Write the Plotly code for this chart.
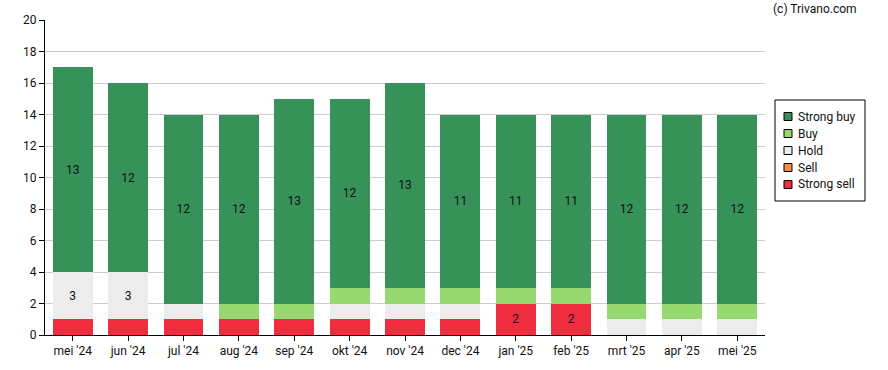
import plotly.graph_objects as go

categories = ["mei '24", "jun '24", "jul '24", "aug '24", "sep '24", "okt '24", "nov '24",
              "dec '24", "jan '25", "feb '25", "mrt '25", "apr '25", "mei '25"]
strong_sell = [1, 1, 1, 1, 1, 1, 1, 1, 2, 2, 0, 0, 0]
sell = [0, 0, 0, 0, 0, 0, 0, 0, 0, 0, 0, 0, 0]
hold = [3, 3, 1, 0, 0, 1, 1, 1, 0, 0, 1, 1, 1]
buy = [0, 0, 0, 1, 1, 1, 1, 1, 1, 1, 1, 1, 1]
strong_buy = [13, 12, 12, 12, 13, 12, 13, 11, 11, 11, 12, 12, 12]

series = [
    ("Strong sell", strong_sell, "#ee2d3f"),
    ("Sell", sell, "#f98b4a"),
    ("Hold", hold, "#ececec"),
    ("Buy", buy, "#97d870"),
    ("Strong buy", strong_buy, "#37925a"),
]

fig = go.Figure()
for name, vals, color in series:
    fig.add_trace(go.Bar(
        x=categories, y=vals, name=name, showlegend=False,
        marker=dict(color=color, line=dict(width=0)),
        text=[str(v) if v >= 2 else "" for v in vals],
        textposition="inside", insidetextanchor="middle", textangle=0,
        constraintext="none",
        textfont=dict(color="#111111", size=12, family="Roboto"),
        hoverinfo="x+y+name",
    ))

# Plot area in pixels (for converting legend pixel layout to paper coords)
PL, PR, PT, PB = 45, 123, 20, 35
W, H = 888, 370
pw, ph = W - PL - PR, H - PT - PB


def px_x(x):
    return (x - PL) / pw


def px_y(y):
    return (H - PB - y) / ph


shapes = []
annotations = []
# legend box
shapes.append(dict(type="rect", xref="paper", yref="paper",
                   x0=px_x(775), x1=px_x(865), y0=px_y(201), y1=px_y(100),
                   line=dict(color="#000000", width=1), fillcolor="white"))
for i, (name, vals, color) in enumerate(reversed(series)):
    cy = 116.5 + i * 17
    shapes.append(dict(type="rect", xref="paper", yref="paper",
                       x0=px_x(784), x1=px_x(792), y0=px_y(cy + 4), y1=px_y(cy - 4),
                       line=dict(color="#000000", width=1), fillcolor=color))
    annotations.append(dict(text=name, x=px_x(796), y=px_y(cy), xref="paper", yref="paper",
                            xanchor="left", yanchor="middle", showarrow=False,
                            font=dict(size=12, family="Roboto", color="#111111")))

annotations.append(dict(
    text="(c) Trivano.com", x=1.0, y=1.0, xref="paper", yref="paper",
    xanchor="right", yanchor="middle", showarrow=False,
    font=dict(size=12, family="Roboto", color="#111111"),
    xshift=94, yshift=11,
))

fig.update_layout(
    width=W, height=H,
    barmode="stack", bargap=0.28,
    plot_bgcolor="white", paper_bgcolor="white",
    margin=dict(l=PL, r=PR, t=PT, b=PB),
    font=dict(family="Roboto", size=12, color="#111111"),
    showlegend=False,
    xaxis=dict(
        showline=True, linecolor="#000000", linewidth=1,
        ticks="outside", ticklen=5, tickcolor="#000000",
        showgrid=False, automargin=False,
    ),
    yaxis=dict(
        range=[0, 20], dtick=2,
        showline=True, linecolor="#000000", linewidth=1,
        ticks="outside", ticklen=5, tickcolor="#000000",
        showgrid=True, gridcolor="#cccccc", gridwidth=1,
        zeroline=False, automargin=False,
    ),
    shapes=shapes,
    annotations=annotations,
)

fig.write_html("out.html", config={"displayModeBar": False},
               post_script="document.body.style.margin='0';")
